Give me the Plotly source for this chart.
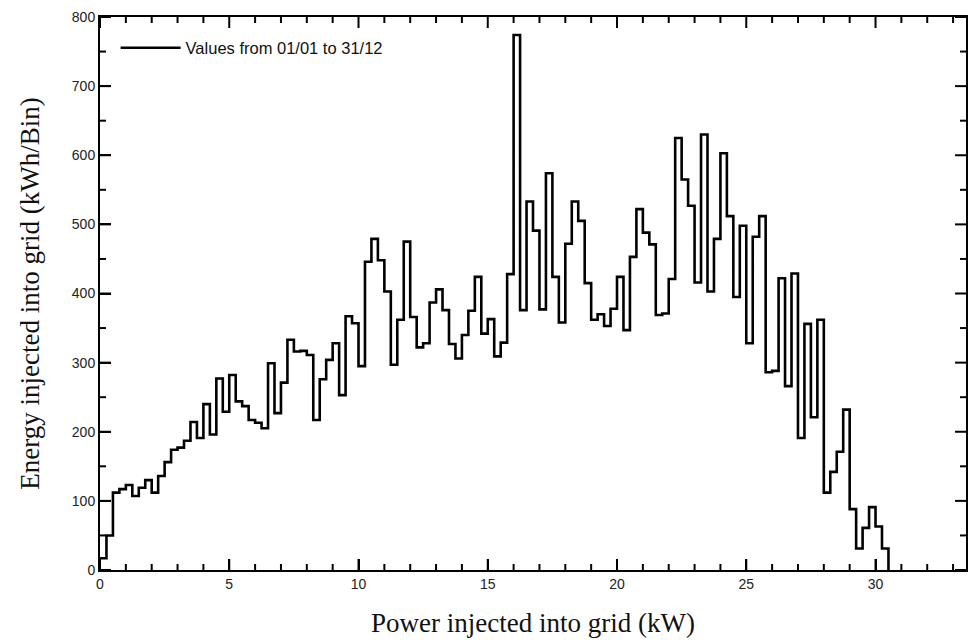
import numpy as np
import plotly.graph_objects as go

bin_width = 0.25  # kW
energy = [17, 50, 112, 117, 123, 107, 119, 130, 112, 136, 156, 174, 177, 187, 214, 191,
          240, 196, 277, 229, 282, 244, 237, 217, 213, 205, 299, 227, 271, 333, 316, 317,
          311, 217, 276, 304, 328, 253, 367, 357, 295, 446, 479, 448, 403, 297, 362, 475,
          366, 322, 328, 387, 406, 376, 327, 306, 340, 375, 424, 342, 363, 309, 329, 428,
          774, 376, 533, 491, 377, 574, 424, 358, 472, 533, 505, 415, 362, 370, 353, 378,
          424, 347, 453, 522, 488, 471, 369, 371, 421, 625, 565, 527, 416, 630, 403, 479,
          603, 512, 395, 498, 328, 482, 512, 286, 288, 422, 266, 429, 191, 356, 221, 362,
          112, 142, 171, 232, 88, 31, 61, 91, 63, 31]
legend_label = "Values from 01/01 to 31/12"
x_range = [0, 33.5]
y_range = [0, 800]
x_major, x_minor = 5, 1
y_major, y_minor = 100, 50

W, H = 971, 644
margin = dict(l=100, r=3, t=17, b=74)
plot_w = W - margin["l"] - margin["r"]
plot_h = H - margin["t"] - margin["b"]
x_per_px = (x_range[1] - x_range[0]) / plot_w
y_per_px = (y_range[1] - y_range[0]) / plot_h
major_len, minor_len = 11, 6

edges = np.arange(len(energy) + 1) * bin_width
yvals = energy + [0]

fig = go.Figure()
fig.add_trace(go.Scatter(
    x=edges, y=yvals, mode="lines", line=dict(shape="hv", color="black", width=2.6),
    name=legend_label, showlegend=True))

# inward tick marks on all four sides (derived from the tick spacing)
tx, ty = [], []
for xv in np.arange(x_range[0], x_range[1] + 1e-9, x_minor):
    ln = (major_len if abs(xv % x_major) < 1e-9 else minor_len) * y_per_px
    tx += [xv, xv, None, xv, xv, None]
    ty += [y_range[0], y_range[0] + ln, None, y_range[1], y_range[1] - ln, None]
for yv in np.arange(y_range[0], y_range[1] + 1e-9, y_minor):
    ln = (major_len if abs(yv % y_major) < 1e-9 else minor_len) * x_per_px
    tx += [x_range[0], x_range[0] + ln, None, x_range[1], x_range[1] - ln, None]
    ty += [yv, yv, None, yv, yv, None]
fig.add_trace(go.Scatter(x=tx, y=ty, mode="lines", line=dict(color="black", width=2),
                         showlegend=False, hoverinfo="skip", cliponaxis=False))

tick_font = dict(family="Liberation Sans, Arial, sans-serif", size=14, color="#222")
title_font = dict(family="Liberation Serif, Times New Roman, serif", size=27, color="#111")

fig.update_layout(
    width=W, height=H, margin=margin,
    plot_bgcolor="white", paper_bgcolor="white",
    xaxis=dict(range=x_range, tickmode="linear", tick0=0, dtick=x_major,
               showline=True, linewidth=2, linecolor="black", mirror=True,
               ticks="inside", ticklen=major_len, tickwidth=1.5, tickcolor="black",
               showgrid=False, zeroline=False, tickfont=tick_font,
               title=dict(text="Power injected into grid (kW)", standoff=22, font=title_font)),
    yaxis=dict(range=y_range, tickmode="linear", tick0=0, dtick=y_major,
               showline=True, linewidth=2, linecolor="black", mirror=True,
               ticks="inside", ticklen=major_len, tickwidth=1.5, tickcolor="black",
               showgrid=False, zeroline=False, tickfont=tick_font,
               title=dict(text="Energy injected into grid (kWh/Bin)", standoff=24, font=title_font)),
    legend=dict(x=0.018, y=0.944, xanchor="left", yanchor="middle", bgcolor="rgba(0,0,0,0)",
                itemwidth=60,
                font=dict(family="Liberation Sans, Arial, sans-serif", size=16.5, color="#111")),
)

fig.write_html("out.html")
